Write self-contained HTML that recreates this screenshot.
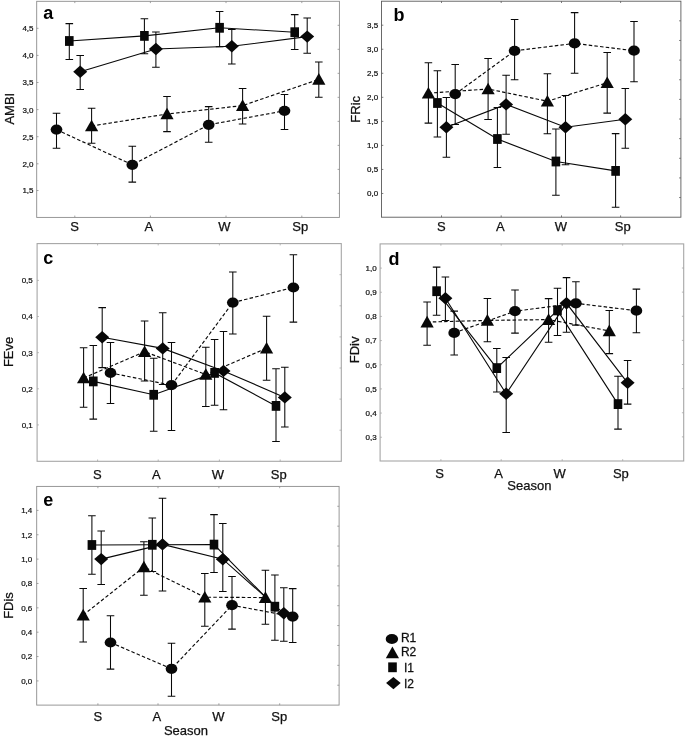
<!DOCTYPE html>
<html><head><meta charset="utf-8"><title>Figure</title>
<style>
html,body{margin:0;padding:0;background:#fff;}
body{width:685px;height:736px;overflow:hidden;font-family:"Liberation Sans",sans-serif;}
svg{display:block;}
</style></head><body>
<svg width="685" height="736" viewBox="0 0 685 736" style="will-change:transform;transform:translateZ(0)">
<rect width="685" height="736" fill="#fff"/>
<rect x="36.7" y="1.3" width="302.70" height="216.10" fill="none" stroke="#8c8c8c" stroke-width="0.9"/>
<path d="M74.8 1.3v1.8M74.8 217.4v-1.8M150.4 1.3v1.8M150.4 217.4v-1.8M226.0 1.3v1.8M226.0 217.4v-1.8M301.8 1.3v1.8M301.8 217.4v-1.8M36.7 28.30h1.8M36.7 55.40h1.8M36.7 82.50h1.8M36.7 109.60h1.8M36.7 136.70h1.8M36.7 163.80h1.8M36.7 190.50h1.8M339.4 25.31h-1.8M339.4 49.32h-1.8M339.4 73.33h-1.8M339.4 97.34h-1.8M339.4 121.36h-1.8M339.4 145.37h-1.8M339.4 169.38h-1.8M339.4 193.39h-1.8" stroke="#8c8c8c" stroke-width="0.8" fill="none"/>
<text x="33.50" y="31.20" text-anchor="end" font-size="8" font-family="Liberation Sans, sans-serif" fill="#111" stroke="#111" stroke-width="0.22">4,5</text>
<text x="33.50" y="58.30" text-anchor="end" font-size="8" font-family="Liberation Sans, sans-serif" fill="#111" stroke="#111" stroke-width="0.22">4,0</text>
<text x="33.50" y="85.40" text-anchor="end" font-size="8" font-family="Liberation Sans, sans-serif" fill="#111" stroke="#111" stroke-width="0.22">3,5</text>
<text x="33.50" y="112.50" text-anchor="end" font-size="8" font-family="Liberation Sans, sans-serif" fill="#111" stroke="#111" stroke-width="0.22">3,0</text>
<text x="33.50" y="139.60" text-anchor="end" font-size="8" font-family="Liberation Sans, sans-serif" fill="#111" stroke="#111" stroke-width="0.22">2,5</text>
<text x="33.50" y="166.70" text-anchor="end" font-size="8" font-family="Liberation Sans, sans-serif" fill="#111" stroke="#111" stroke-width="0.22">2,0</text>
<text x="33.50" y="193.40" text-anchor="end" font-size="8" font-family="Liberation Sans, sans-serif" fill="#111" stroke="#111" stroke-width="0.22">1,5</text>
<text x="74.60" y="230.70" text-anchor="middle" font-size="13" font-family="Liberation Sans, sans-serif" fill="#111" stroke="#111" stroke-width="0.25">S</text>
<text x="148.80" y="230.70" text-anchor="middle" font-size="13" font-family="Liberation Sans, sans-serif" fill="#111" stroke="#111" stroke-width="0.25">A</text>
<text x="224.50" y="230.70" text-anchor="middle" font-size="13" font-family="Liberation Sans, sans-serif" fill="#111" stroke="#111" stroke-width="0.25">W</text>
<text x="300.20" y="230.70" text-anchor="middle" font-size="13" font-family="Liberation Sans, sans-serif" fill="#111" stroke="#111" stroke-width="0.25">Sp</text>
<text transform="translate(13.6,108.7) rotate(-90)" text-anchor="middle" font-size="13" font-family="Liberation Sans, sans-serif" fill="#111" stroke="#111" stroke-width="0.25">AMBI</text>
<text x="43.2" y="18.8" font-size="18" font-weight="bold" font-family="Liberation Sans, sans-serif" fill="#000">a</text>
<path d="M56.50 129.60 L132.30 164.80 L208.70 124.80 L284.50 110.80" stroke="#080808" stroke-width="1.15" fill="none" stroke-dasharray="3.5 2.2"/>
<path d="M91.60 126.00 L167.00 114.00 L242.60 105.60 L318.80 79.40" stroke="#080808" stroke-width="1.15" fill="none" stroke-dasharray="3.5 2.2"/>
<path d="M69.30 41.00 L144.40 35.90 L219.60 27.80 L294.70 32.20" stroke="#080808" stroke-width="1.1" fill="none"/>
<path d="M80.20 71.80 L155.90 49.00 L231.80 46.30 L307.20 36.60" stroke="#080808" stroke-width="1.1" fill="none"/>
<path d="M56.50 113.30V148.20M52.70 113.30H60.30M52.70 148.20H60.30" stroke="#080808" stroke-width="1.05" fill="none"/>
<path d="M132.30 146.20V182.10M128.50 146.20H136.10M128.50 182.10H136.10" stroke="#080808" stroke-width="1.05" fill="none"/>
<path d="M208.70 106.60V142.20M204.90 106.60H212.50M204.90 142.20H212.50" stroke="#080808" stroke-width="1.05" fill="none"/>
<path d="M284.50 94.40V129.50M280.70 94.40H288.30M280.70 129.50H288.30" stroke="#080808" stroke-width="1.05" fill="none"/>
<path d="M91.60 108.30V143.20M87.80 108.30H95.40M87.80 143.20H95.40" stroke="#080808" stroke-width="1.05" fill="none"/>
<path d="M167.00 96.50V131.60M163.20 96.50H170.80M163.20 131.60H170.80" stroke="#080808" stroke-width="1.05" fill="none"/>
<path d="M242.60 88.40V124.00M238.80 88.40H246.40M238.80 124.00H246.40" stroke="#080808" stroke-width="1.05" fill="none"/>
<path d="M318.80 61.90V97.20M315.00 61.90H322.60M315.00 97.20H322.60" stroke="#080808" stroke-width="1.05" fill="none"/>
<path d="M69.30 23.60V59.40M65.50 23.60H73.10M65.50 59.40H73.10" stroke="#080808" stroke-width="1.05" fill="none"/>
<path d="M144.40 18.80V53.70M140.60 18.80H148.20M140.60 53.70H148.20" stroke="#080808" stroke-width="1.05" fill="none"/>
<path d="M219.60 11.40V46.80M215.80 11.40H223.40M215.80 46.80H223.40" stroke="#080808" stroke-width="1.05" fill="none"/>
<path d="M294.70 14.60V49.40M290.90 14.60H298.50M290.90 49.40H298.50" stroke="#080808" stroke-width="1.05" fill="none"/>
<path d="M80.20 55.50V89.50M76.40 55.50H84.00M76.40 89.50H84.00" stroke="#080808" stroke-width="1.05" fill="none"/>
<path d="M155.90 31.90V67.30M152.10 31.90H159.70M152.10 67.30H159.70" stroke="#080808" stroke-width="1.05" fill="none"/>
<path d="M231.80 29.40V63.90M228.00 29.40H235.60M228.00 63.90H235.60" stroke="#080808" stroke-width="1.05" fill="none"/>
<path d="M307.20 17.90V53.30M303.40 17.90H311.00M303.40 53.30H311.00" stroke="#080808" stroke-width="1.05" fill="none"/>
<ellipse cx="56.50" cy="129.60" rx="5.85" ry="5.1" fill="#080808"/>
<ellipse cx="132.30" cy="164.80" rx="5.85" ry="5.1" fill="#080808"/>
<ellipse cx="208.70" cy="124.80" rx="5.85" ry="5.1" fill="#080808"/>
<ellipse cx="284.50" cy="110.80" rx="5.85" ry="5.1" fill="#080808"/>
<path d="M91.60 119.70 L98.20 131.30 L85.00 131.30Z" fill="#080808"/>
<path d="M167.00 107.70 L173.60 119.30 L160.40 119.30Z" fill="#080808"/>
<path d="M242.60 99.30 L249.20 110.90 L236.00 110.90Z" fill="#080808"/>
<path d="M318.80 73.10 L325.40 84.70 L312.20 84.70Z" fill="#080808"/>
<rect x="65.00" y="36.10" width="8.6" height="9.8" fill="#080808"/>
<rect x="140.10" y="31.00" width="8.6" height="9.8" fill="#080808"/>
<rect x="215.30" y="22.90" width="8.6" height="9.8" fill="#080808"/>
<rect x="290.40" y="27.30" width="8.6" height="9.8" fill="#080808"/>
<path d="M80.20 65.60 L87.20 71.80 L80.20 78.00 L73.20 71.80Z" fill="#080808"/>
<path d="M155.90 42.80 L162.90 49.00 L155.90 55.20 L148.90 49.00Z" fill="#080808"/>
<path d="M231.80 40.10 L238.80 46.30 L231.80 52.50 L224.80 46.30Z" fill="#080808"/>
<path d="M307.20 30.40 L314.20 36.60 L307.20 42.80 L300.20 36.60Z" fill="#080808"/>
<rect x="381.5" y="1.2" width="299.40" height="216.00" fill="none" stroke="#5a5a5a" stroke-width="0.9"/>
<path d="M441.5 1.2v1.8M441.5 217.2v-1.8M501.2 1.2v1.8M501.2 217.2v-1.8M561.5 1.2v1.8M561.5 217.2v-1.8M620.6 1.2v1.8M620.6 217.2v-1.8M381.5 25.20h1.8M381.5 49.24h1.8M381.5 73.28h1.8M381.5 97.32h1.8M381.5 121.36h1.8M381.5 145.40h1.8M381.5 169.44h1.8M381.5 193.48h1.8M680.9 20.84h-1.8M680.9 40.47h-1.8M680.9 60.11h-1.8M680.9 79.75h-1.8M680.9 99.38h-1.8M680.9 119.02h-1.8M680.9 138.65h-1.8M680.9 158.29h-1.8M680.9 177.93h-1.8M680.9 197.56h-1.8" stroke="#5a5a5a" stroke-width="0.8" fill="none"/>
<text x="378.20" y="28.10" text-anchor="end" font-size="8" font-family="Liberation Sans, sans-serif" fill="#111" stroke="#111" stroke-width="0.22">3,5</text>
<text x="378.20" y="52.14" text-anchor="end" font-size="8" font-family="Liberation Sans, sans-serif" fill="#111" stroke="#111" stroke-width="0.22">3,0</text>
<text x="378.20" y="76.18" text-anchor="end" font-size="8" font-family="Liberation Sans, sans-serif" fill="#111" stroke="#111" stroke-width="0.22">2,5</text>
<text x="378.20" y="100.22" text-anchor="end" font-size="8" font-family="Liberation Sans, sans-serif" fill="#111" stroke="#111" stroke-width="0.22">2,0</text>
<text x="378.20" y="124.26" text-anchor="end" font-size="8" font-family="Liberation Sans, sans-serif" fill="#111" stroke="#111" stroke-width="0.22">1,5</text>
<text x="378.20" y="148.30" text-anchor="end" font-size="8" font-family="Liberation Sans, sans-serif" fill="#111" stroke="#111" stroke-width="0.22">1,0</text>
<text x="378.20" y="172.34" text-anchor="end" font-size="8" font-family="Liberation Sans, sans-serif" fill="#111" stroke="#111" stroke-width="0.22">0,5</text>
<text x="378.20" y="196.38" text-anchor="end" font-size="8" font-family="Liberation Sans, sans-serif" fill="#111" stroke="#111" stroke-width="0.22">0,0</text>
<text x="441.40" y="230.90" text-anchor="middle" font-size="13" font-family="Liberation Sans, sans-serif" fill="#111" stroke="#111" stroke-width="0.25">S</text>
<text x="500.40" y="230.90" text-anchor="middle" font-size="13" font-family="Liberation Sans, sans-serif" fill="#111" stroke="#111" stroke-width="0.25">A</text>
<text x="561.00" y="230.90" text-anchor="middle" font-size="13" font-family="Liberation Sans, sans-serif" fill="#111" stroke="#111" stroke-width="0.25">W</text>
<text x="622.70" y="230.90" text-anchor="middle" font-size="13" font-family="Liberation Sans, sans-serif" fill="#111" stroke="#111" stroke-width="0.25">Sp</text>
<text transform="translate(360.0,109.3) rotate(-90)" text-anchor="middle" font-size="13" font-family="Liberation Sans, sans-serif" fill="#111" stroke="#111" stroke-width="0.25">FRic</text>
<text x="393.5" y="20.8" font-size="18" font-weight="bold" font-family="Liberation Sans, sans-serif" fill="#000">b</text>
<path d="M455.20 94.10 L514.60 50.80 L574.60 43.40 L634.00 50.70" stroke="#080808" stroke-width="1.15" fill="none" stroke-dasharray="3.5 2.2"/>
<path d="M428.40 93.20 L488.10 89.00 L547.40 101.20 L607.20 82.80" stroke="#080808" stroke-width="1.15" fill="none" stroke-dasharray="3.5 2.2"/>
<path d="M437.40 103.00 L497.40 139.00 L555.90 161.50 L615.60 170.90" stroke="#080808" stroke-width="1.1" fill="none"/>
<path d="M446.40 127.20 L506.10 104.40 L565.50 127.20 L625.30 119.30" stroke="#080808" stroke-width="1.1" fill="none"/>
<path d="M455.20 64.50V124.40M451.40 64.50H459.00M451.40 124.40H459.00" stroke="#080808" stroke-width="1.05" fill="none"/>
<path d="M514.60 19.50V79.70M510.80 19.50H518.40M510.80 79.70H518.40" stroke="#080808" stroke-width="1.05" fill="none"/>
<path d="M574.60 12.60V73.30M570.80 12.60H578.40M570.80 73.30H578.40" stroke="#080808" stroke-width="1.05" fill="none"/>
<path d="M634.00 21.50V81.70M630.20 21.50H637.80M630.20 81.70H637.80" stroke="#080808" stroke-width="1.05" fill="none"/>
<path d="M428.40 62.80V123.10M424.60 62.80H432.20M424.60 123.10H432.20" stroke="#080808" stroke-width="1.05" fill="none"/>
<path d="M488.10 58.50V119.40M484.30 58.50H491.90M484.30 119.40H491.90" stroke="#080808" stroke-width="1.05" fill="none"/>
<path d="M547.40 73.80V133.80M543.60 73.80H551.20M543.60 133.80H551.20" stroke="#080808" stroke-width="1.05" fill="none"/>
<path d="M607.20 52.50V113.10M603.40 52.50H611.00M603.40 113.10H611.00" stroke="#080808" stroke-width="1.05" fill="none"/>
<path d="M437.40 70.80V137.00M433.60 70.80H441.20M433.60 137.00H441.20" stroke="#080808" stroke-width="1.05" fill="none"/>
<path d="M497.40 107.40V167.50M493.60 107.40H501.20M493.60 167.50H501.20" stroke="#080808" stroke-width="1.05" fill="none"/>
<path d="M555.90 129.00V195.30M552.10 129.00H559.70M552.10 195.30H559.70" stroke="#080808" stroke-width="1.05" fill="none"/>
<path d="M615.60 133.60V207.20M611.80 133.60H619.40M611.80 207.20H619.40" stroke="#080808" stroke-width="1.05" fill="none"/>
<path d="M446.40 97.50V157.30M442.60 97.50H450.20M442.60 157.30H450.20" stroke="#080808" stroke-width="1.05" fill="none"/>
<path d="M506.10 75.30V134.20M502.30 75.30H509.90M502.30 134.20H509.90" stroke="#080808" stroke-width="1.05" fill="none"/>
<path d="M565.50 95.40V164.80M561.70 95.40H569.30M561.70 164.80H569.30" stroke="#080808" stroke-width="1.05" fill="none"/>
<path d="M625.30 88.50V148.30M621.50 88.50H629.10M621.50 148.30H629.10" stroke="#080808" stroke-width="1.05" fill="none"/>
<ellipse cx="455.20" cy="94.10" rx="5.85" ry="5.1" fill="#080808"/>
<ellipse cx="514.60" cy="50.80" rx="5.85" ry="5.1" fill="#080808"/>
<ellipse cx="574.60" cy="43.40" rx="5.85" ry="5.1" fill="#080808"/>
<ellipse cx="634.00" cy="50.70" rx="5.85" ry="5.1" fill="#080808"/>
<path d="M428.40 86.90 L435.00 98.50 L421.80 98.50Z" fill="#080808"/>
<path d="M488.10 82.70 L494.70 94.30 L481.50 94.30Z" fill="#080808"/>
<path d="M547.40 94.90 L554.00 106.50 L540.80 106.50Z" fill="#080808"/>
<path d="M607.20 76.50 L613.80 88.10 L600.60 88.10Z" fill="#080808"/>
<rect x="433.10" y="98.10" width="8.6" height="9.8" fill="#080808"/>
<rect x="493.10" y="134.10" width="8.6" height="9.8" fill="#080808"/>
<rect x="551.60" y="156.60" width="8.6" height="9.8" fill="#080808"/>
<rect x="611.30" y="166.00" width="8.6" height="9.8" fill="#080808"/>
<path d="M446.40 121.00 L453.40 127.20 L446.40 133.40 L439.40 127.20Z" fill="#080808"/>
<path d="M506.10 98.20 L513.10 104.40 L506.10 110.60 L499.10 104.40Z" fill="#080808"/>
<path d="M565.50 121.00 L572.50 127.20 L565.50 133.40 L558.50 127.20Z" fill="#080808"/>
<path d="M625.30 113.10 L632.30 119.30 L625.30 125.50 L618.30 119.30Z" fill="#080808"/>
<rect x="37.1" y="243.6" width="304.20" height="217.70" fill="none" stroke="#a6a6a6" stroke-width="1.1"/>
<path d="M97.6 243.6v1.8M97.6 461.3v-1.8M158.2 243.6v1.8M158.2 461.3v-1.8M219.4 243.6v1.8M219.4 461.3v-1.8M280.2 243.6v1.8M280.2 461.3v-1.8M37.1 280.40h1.8M37.1 316.53h1.8M37.1 352.66h1.8M37.1 388.79h1.8M37.1 424.92h1.8M341.3 274.70h-1.8M341.3 305.80h-1.8M341.3 336.90h-1.8M341.3 368.00h-1.8M341.3 399.10h-1.8M341.3 430.20h-1.8" stroke="#a6a6a6" stroke-width="0.8" fill="none"/>
<text x="32.80" y="283.30" text-anchor="end" font-size="8" font-family="Liberation Sans, sans-serif" fill="#111" stroke="#111" stroke-width="0.22">0,5</text>
<text x="32.80" y="319.43" text-anchor="end" font-size="8" font-family="Liberation Sans, sans-serif" fill="#111" stroke="#111" stroke-width="0.22">0,4</text>
<text x="32.80" y="355.56" text-anchor="end" font-size="8" font-family="Liberation Sans, sans-serif" fill="#111" stroke="#111" stroke-width="0.22">0,3</text>
<text x="32.80" y="391.69" text-anchor="end" font-size="8" font-family="Liberation Sans, sans-serif" fill="#111" stroke="#111" stroke-width="0.22">0,2</text>
<text x="32.80" y="427.82" text-anchor="end" font-size="8" font-family="Liberation Sans, sans-serif" fill="#111" stroke="#111" stroke-width="0.22">0,1</text>
<text x="97.40" y="478.60" text-anchor="middle" font-size="13" font-family="Liberation Sans, sans-serif" fill="#111" stroke="#111" stroke-width="0.25">S</text>
<text x="156.40" y="478.60" text-anchor="middle" font-size="13" font-family="Liberation Sans, sans-serif" fill="#111" stroke="#111" stroke-width="0.25">A</text>
<text x="217.80" y="478.60" text-anchor="middle" font-size="13" font-family="Liberation Sans, sans-serif" fill="#111" stroke="#111" stroke-width="0.25">W</text>
<text x="278.80" y="478.60" text-anchor="middle" font-size="13" font-family="Liberation Sans, sans-serif" fill="#111" stroke="#111" stroke-width="0.25">Sp</text>
<text transform="translate(13.2,351.9) rotate(-90)" text-anchor="middle" font-size="13" font-family="Liberation Sans, sans-serif" fill="#111" stroke="#111" stroke-width="0.25">FEve</text>
<text x="43.3" y="263.5" font-size="18" font-weight="bold" font-family="Liberation Sans, sans-serif" fill="#000">c</text>
<path d="M110.50 372.90 L171.50 385.20 L232.80 302.60 L293.40 287.50" stroke="#080808" stroke-width="1.15" fill="none" stroke-dasharray="3.5 2.2"/>
<path d="M83.60 378.00 L144.60 351.70 L205.80 374.50 L266.60 348.20" stroke="#080808" stroke-width="1.15" fill="none" stroke-dasharray="3.5 2.2"/>
<path d="M93.30 381.40 L153.70 394.80 L214.60 372.90 L276.00 405.90" stroke="#080808" stroke-width="1.1" fill="none"/>
<path d="M102.20 337.20 L162.70 348.40 L223.50 370.90 L284.80 397.40" stroke="#080808" stroke-width="1.1" fill="none"/>
<path d="M110.50 342.50V403.50M106.70 342.50H114.30M106.70 403.50H114.30" stroke="#080808" stroke-width="1.05" fill="none"/>
<path d="M171.50 342.40V430.40M167.70 342.40H175.30M167.70 430.40H175.30" stroke="#080808" stroke-width="1.05" fill="none"/>
<path d="M232.80 271.90V334.00M229.00 271.90H236.60M229.00 334.00H236.60" stroke="#080808" stroke-width="1.05" fill="none"/>
<path d="M293.40 254.80V322.10M289.60 254.80H297.20M289.60 322.10H297.20" stroke="#080808" stroke-width="1.05" fill="none"/>
<path d="M83.60 347.70V407.30M79.80 347.70H87.40M79.80 407.30H87.40" stroke="#080808" stroke-width="1.05" fill="none"/>
<path d="M144.60 320.90V380.90M140.80 320.90H148.40M140.80 380.90H148.40" stroke="#080808" stroke-width="1.05" fill="none"/>
<path d="M205.80 347.30V406.50M202.00 347.30H209.60M202.00 406.50H209.60" stroke="#080808" stroke-width="1.05" fill="none"/>
<path d="M266.60 316.30V380.20M262.80 316.30H270.40M262.80 380.20H270.40" stroke="#080808" stroke-width="1.05" fill="none"/>
<path d="M93.30 345.50V419.10M89.50 345.50H97.10M89.50 419.10H97.10" stroke="#080808" stroke-width="1.05" fill="none"/>
<path d="M153.70 358.30V431.20M149.90 358.30H157.50M149.90 431.20H157.50" stroke="#080808" stroke-width="1.05" fill="none"/>
<path d="M214.60 339.50V405.20M210.80 339.50H218.40M210.80 405.20H218.40" stroke="#080808" stroke-width="1.05" fill="none"/>
<path d="M276.00 368.80V441.50M272.20 368.80H279.80M272.20 441.50H279.80" stroke="#080808" stroke-width="1.05" fill="none"/>
<path d="M102.20 307.60V367.60M98.40 307.60H106.00M98.40 367.60H106.00" stroke="#080808" stroke-width="1.05" fill="none"/>
<path d="M162.70 312.80V384.50M158.90 312.80H166.50M158.90 384.50H166.50" stroke="#080808" stroke-width="1.05" fill="none"/>
<path d="M223.50 331.40V409.80M219.70 331.40H227.30M219.70 409.80H227.30" stroke="#080808" stroke-width="1.05" fill="none"/>
<path d="M284.80 367.20V427.00M281.00 367.20H288.60M281.00 427.00H288.60" stroke="#080808" stroke-width="1.05" fill="none"/>
<ellipse cx="110.50" cy="372.90" rx="5.85" ry="5.1" fill="#080808"/>
<ellipse cx="171.50" cy="385.20" rx="5.85" ry="5.1" fill="#080808"/>
<ellipse cx="232.80" cy="302.60" rx="5.85" ry="5.1" fill="#080808"/>
<ellipse cx="293.40" cy="287.50" rx="5.85" ry="5.1" fill="#080808"/>
<path d="M83.60 371.70 L90.20 383.30 L77.00 383.30Z" fill="#080808"/>
<path d="M144.60 345.40 L151.20 357.00 L138.00 357.00Z" fill="#080808"/>
<path d="M205.80 368.20 L212.40 379.80 L199.20 379.80Z" fill="#080808"/>
<path d="M266.60 341.90 L273.20 353.50 L260.00 353.50Z" fill="#080808"/>
<rect x="89.00" y="376.50" width="8.6" height="9.8" fill="#080808"/>
<rect x="149.40" y="389.90" width="8.6" height="9.8" fill="#080808"/>
<rect x="210.30" y="368.00" width="8.6" height="9.8" fill="#080808"/>
<rect x="271.70" y="401.00" width="8.6" height="9.8" fill="#080808"/>
<path d="M102.20 331.00 L109.20 337.20 L102.20 343.40 L95.20 337.20Z" fill="#080808"/>
<path d="M162.70 342.20 L169.70 348.40 L162.70 354.60 L155.70 348.40Z" fill="#080808"/>
<path d="M223.50 364.70 L230.50 370.90 L223.50 377.10 L216.50 370.90Z" fill="#080808"/>
<path d="M284.80 391.20 L291.80 397.40 L284.80 403.60 L277.80 397.40Z" fill="#080808"/>
<rect x="380.1" y="243.9" width="303.60" height="217.10" fill="none" stroke="#a6a6a6" stroke-width="1.1"/>
<path d="M440.9 243.9v1.8M440.9 461.0v-1.8M501.2 243.9v1.8M501.2 461.0v-1.8M562.2 243.9v1.8M562.2 461.0v-1.8M622.7 243.9v1.8M622.7 461.0v-1.8M380.1 268.10h1.8M380.1 292.26h1.8M380.1 316.42h1.8M380.1 340.58h1.8M380.1 364.74h1.8M380.1 388.90h1.8M380.1 413.06h1.8M380.1 437.22h1.8M683.7 268.02h-1.8M683.7 292.14h-1.8M683.7 316.27h-1.8M683.7 340.39h-1.8M683.7 364.51h-1.8M683.7 388.63h-1.8M683.7 412.76h-1.8M683.7 436.88h-1.8" stroke="#a6a6a6" stroke-width="0.8" fill="none"/>
<text x="376.70" y="271.00" text-anchor="end" font-size="8" font-family="Liberation Sans, sans-serif" fill="#111" stroke="#111" stroke-width="0.22">1,0</text>
<text x="376.70" y="295.16" text-anchor="end" font-size="8" font-family="Liberation Sans, sans-serif" fill="#111" stroke="#111" stroke-width="0.22">0,9</text>
<text x="376.70" y="319.32" text-anchor="end" font-size="8" font-family="Liberation Sans, sans-serif" fill="#111" stroke="#111" stroke-width="0.22">0,8</text>
<text x="376.70" y="343.48" text-anchor="end" font-size="8" font-family="Liberation Sans, sans-serif" fill="#111" stroke="#111" stroke-width="0.22">0,7</text>
<text x="376.70" y="367.64" text-anchor="end" font-size="8" font-family="Liberation Sans, sans-serif" fill="#111" stroke="#111" stroke-width="0.22">0,6</text>
<text x="376.70" y="391.80" text-anchor="end" font-size="8" font-family="Liberation Sans, sans-serif" fill="#111" stroke="#111" stroke-width="0.22">0,5</text>
<text x="376.70" y="415.96" text-anchor="end" font-size="8" font-family="Liberation Sans, sans-serif" fill="#111" stroke="#111" stroke-width="0.22">0,4</text>
<text x="376.70" y="440.12" text-anchor="end" font-size="8" font-family="Liberation Sans, sans-serif" fill="#111" stroke="#111" stroke-width="0.22">0,3</text>
<text x="439.70" y="478.40" text-anchor="middle" font-size="13" font-family="Liberation Sans, sans-serif" fill="#111" stroke="#111" stroke-width="0.25">S</text>
<text x="498.70" y="478.40" text-anchor="middle" font-size="13" font-family="Liberation Sans, sans-serif" fill="#111" stroke="#111" stroke-width="0.25">A</text>
<text x="559.70" y="478.40" text-anchor="middle" font-size="13" font-family="Liberation Sans, sans-serif" fill="#111" stroke="#111" stroke-width="0.25">W</text>
<text x="620.90" y="478.40" text-anchor="middle" font-size="13" font-family="Liberation Sans, sans-serif" fill="#111" stroke="#111" stroke-width="0.25">Sp</text>
<text transform="translate(359.3,349.9) rotate(-90)" text-anchor="middle" font-size="13" font-family="Liberation Sans, sans-serif" fill="#111" stroke="#111" stroke-width="0.25">FDiv</text>
<text x="388.5" y="264.6" font-size="18" font-weight="bold" font-family="Liberation Sans, sans-serif" fill="#000">d</text>
<text x="507.3" y="490.20" font-size="13" font-family="Liberation Sans, sans-serif" fill="#111" stroke="#111" stroke-width="0.25">Season</text>
<path d="M454.20 332.90 L515.00 311.20 L575.90 303.30 L636.40 310.70" stroke="#080808" stroke-width="1.15" fill="none" stroke-dasharray="3.5 2.2"/>
<path d="M427.10 322.10 L487.40 320.40 L548.60 319.60 L609.30 330.90" stroke="#080808" stroke-width="1.15" fill="none" stroke-dasharray="3.5 2.2"/>
<path d="M436.60 291.20 L496.80 368.10 L557.50 310.40 L618.00 404.10" stroke="#080808" stroke-width="1.1" fill="none"/>
<path d="M445.40 298.30 L506.20 393.70 L566.50 303.30 L627.60 382.80" stroke="#080808" stroke-width="1.1" fill="none"/>
<path d="M454.20 311.10V355.00M450.40 311.10H458.00M450.40 355.00H458.00" stroke="#080808" stroke-width="1.05" fill="none"/>
<path d="M515.00 290.00V333.10M511.20 290.00H518.80M511.20 333.10H518.80" stroke="#080808" stroke-width="1.05" fill="none"/>
<path d="M575.90 281.80V325.10M572.10 281.80H579.70M572.10 325.10H579.70" stroke="#080808" stroke-width="1.05" fill="none"/>
<path d="M636.40 289.10V332.70M632.60 289.10H640.20M632.60 332.70H640.20" stroke="#080808" stroke-width="1.05" fill="none"/>
<path d="M427.10 302.00V345.20M423.30 302.00H430.90M423.30 345.20H430.90" stroke="#080808" stroke-width="1.05" fill="none"/>
<path d="M487.40 298.50V341.70M483.60 298.50H491.20M483.60 341.70H491.20" stroke="#080808" stroke-width="1.05" fill="none"/>
<path d="M548.60 298.60V342.20M544.80 298.60H552.40M544.80 342.20H552.40" stroke="#080808" stroke-width="1.05" fill="none"/>
<path d="M609.30 310.40V353.60M605.50 310.40H613.10M605.50 353.60H613.10" stroke="#080808" stroke-width="1.05" fill="none"/>
<path d="M436.60 267.10V315.30M432.80 267.10H440.40M432.80 315.30H440.40" stroke="#080808" stroke-width="1.05" fill="none"/>
<path d="M496.80 348.40V392.00M493.00 348.40H500.60M493.00 392.00H500.60" stroke="#080808" stroke-width="1.05" fill="none"/>
<path d="M557.50 288.30V335.40M553.70 288.30H561.30M553.70 335.40H561.30" stroke="#080808" stroke-width="1.05" fill="none"/>
<path d="M618.00 376.30V429.10M614.20 376.30H621.80M614.20 429.10H621.80" stroke="#080808" stroke-width="1.05" fill="none"/>
<path d="M445.40 276.90V320.40M441.60 276.90H449.20M441.60 320.40H449.20" stroke="#080808" stroke-width="1.05" fill="none"/>
<path d="M506.20 357.50V432.50M502.40 357.50H510.00M502.40 432.50H510.00" stroke="#080808" stroke-width="1.05" fill="none"/>
<path d="M566.50 277.60V332.20M562.70 277.60H570.30M562.70 332.20H570.30" stroke="#080808" stroke-width="1.05" fill="none"/>
<path d="M627.60 360.50V404.10M623.80 360.50H631.40M623.80 404.10H631.40" stroke="#080808" stroke-width="1.05" fill="none"/>
<ellipse cx="454.20" cy="332.90" rx="5.85" ry="5.1" fill="#080808"/>
<ellipse cx="515.00" cy="311.20" rx="5.85" ry="5.1" fill="#080808"/>
<ellipse cx="575.90" cy="303.30" rx="5.85" ry="5.1" fill="#080808"/>
<ellipse cx="636.40" cy="310.70" rx="5.85" ry="5.1" fill="#080808"/>
<path d="M427.10 315.80 L433.70 327.40 L420.50 327.40Z" fill="#080808"/>
<path d="M487.40 314.10 L494.00 325.70 L480.80 325.70Z" fill="#080808"/>
<path d="M548.60 313.30 L555.20 324.90 L542.00 324.90Z" fill="#080808"/>
<path d="M609.30 324.60 L615.90 336.20 L602.70 336.20Z" fill="#080808"/>
<rect x="432.30" y="286.30" width="8.6" height="9.8" fill="#080808"/>
<rect x="492.50" y="363.20" width="8.6" height="9.8" fill="#080808"/>
<rect x="553.20" y="305.50" width="8.6" height="9.8" fill="#080808"/>
<rect x="613.70" y="399.20" width="8.6" height="9.8" fill="#080808"/>
<path d="M445.40 292.10 L452.40 298.30 L445.40 304.50 L438.40 298.30Z" fill="#080808"/>
<path d="M506.20 387.50 L513.20 393.70 L506.20 399.90 L499.20 393.70Z" fill="#080808"/>
<path d="M566.50 297.10 L573.50 303.30 L566.50 309.50 L559.50 303.30Z" fill="#080808"/>
<path d="M627.60 376.60 L634.60 382.80 L627.60 389.00 L620.60 382.80Z" fill="#080808"/>
<rect x="36.7" y="486.4" width="302.40" height="218.70" fill="none" stroke="#8c8c8c" stroke-width="0.9"/>
<path d="M97.9 486.4v1.8M97.9 705.1v-1.8M158.0 486.4v1.8M158.0 705.1v-1.8M218.9 486.4v1.8M218.9 705.1v-1.8M279.7 486.4v1.8M279.7 705.1v-1.8M36.7 510.40h1.8M36.7 534.76h1.8M36.7 559.12h1.8M36.7 583.48h1.8M36.7 607.84h1.8M36.7 632.20h1.8M36.7 656.56h1.8M36.7 680.92h1.8M339.1 506.28h-1.8M339.1 526.16h-1.8M339.1 546.05h-1.8M339.1 565.93h-1.8M339.1 585.81h-1.8M339.1 605.69h-1.8M339.1 625.57h-1.8M339.1 645.45h-1.8M339.1 665.34h-1.8M339.1 685.22h-1.8" stroke="#8c8c8c" stroke-width="0.8" fill="none"/>
<text x="32.30" y="513.30" text-anchor="end" font-size="8" font-family="Liberation Sans, sans-serif" fill="#111" stroke="#111" stroke-width="0.22">1,4</text>
<text x="32.30" y="537.66" text-anchor="end" font-size="8" font-family="Liberation Sans, sans-serif" fill="#111" stroke="#111" stroke-width="0.22">1,2</text>
<text x="32.30" y="562.02" text-anchor="end" font-size="8" font-family="Liberation Sans, sans-serif" fill="#111" stroke="#111" stroke-width="0.22">1,0</text>
<text x="32.30" y="586.38" text-anchor="end" font-size="8" font-family="Liberation Sans, sans-serif" fill="#111" stroke="#111" stroke-width="0.22">0,8</text>
<text x="32.30" y="610.74" text-anchor="end" font-size="8" font-family="Liberation Sans, sans-serif" fill="#111" stroke="#111" stroke-width="0.22">0,6</text>
<text x="32.30" y="635.10" text-anchor="end" font-size="8" font-family="Liberation Sans, sans-serif" fill="#111" stroke="#111" stroke-width="0.22">0,4</text>
<text x="32.30" y="659.46" text-anchor="end" font-size="8" font-family="Liberation Sans, sans-serif" fill="#111" stroke="#111" stroke-width="0.22">0,2</text>
<text x="32.30" y="683.82" text-anchor="end" font-size="8" font-family="Liberation Sans, sans-serif" fill="#111" stroke="#111" stroke-width="0.22">0,0</text>
<text x="97.90" y="721.10" text-anchor="middle" font-size="13" font-family="Liberation Sans, sans-serif" fill="#111" stroke="#111" stroke-width="0.25">S</text>
<text x="156.90" y="721.10" text-anchor="middle" font-size="13" font-family="Liberation Sans, sans-serif" fill="#111" stroke="#111" stroke-width="0.25">A</text>
<text x="218.50" y="721.10" text-anchor="middle" font-size="13" font-family="Liberation Sans, sans-serif" fill="#111" stroke="#111" stroke-width="0.25">W</text>
<text x="279.30" y="721.10" text-anchor="middle" font-size="13" font-family="Liberation Sans, sans-serif" fill="#111" stroke="#111" stroke-width="0.25">Sp</text>
<text transform="translate(12.8,605.5) rotate(-90)" text-anchor="middle" font-size="13" font-family="Liberation Sans, sans-serif" fill="#111" stroke="#111" stroke-width="0.25">FDis</text>
<text x="43.2" y="506.3" font-size="18" font-weight="bold" font-family="Liberation Sans, sans-serif" fill="#000">e</text>
<text x="163.9" y="734.70" font-size="13" font-family="Liberation Sans, sans-serif" fill="#111" stroke="#111" stroke-width="0.25">Season</text>
<path d="M110.50 642.50 L171.50 668.80 L232.00 605.20 L292.70 616.60" stroke="#080808" stroke-width="1.15" fill="none" stroke-dasharray="3.5 2.2"/>
<path d="M83.20 615.10 L143.90 567.00 L204.80 597.20 L265.40 597.60" stroke="#080808" stroke-width="1.15" fill="none" stroke-dasharray="3.5 2.2"/>
<path d="M91.90 545.00 L152.30 544.80 L214.00 544.60 L274.90 606.70" stroke="#080808" stroke-width="1.1" fill="none"/>
<path d="M101.20 559.10 L162.50 544.40 L222.80 559.20 L283.80 613.30" stroke="#080808" stroke-width="1.1" fill="none"/>
<path d="M110.50 615.70V669.10M106.70 615.70H114.30M106.70 669.10H114.30" stroke="#080808" stroke-width="1.05" fill="none"/>
<path d="M171.50 643.20V696.20M167.70 643.20H175.30M167.70 696.20H175.30" stroke="#080808" stroke-width="1.05" fill="none"/>
<path d="M232.00 576.50V629.10M228.20 576.50H235.80M228.20 629.10H235.80" stroke="#080808" stroke-width="1.05" fill="none"/>
<path d="M292.70 588.60V642.40M288.90 588.60H296.50M288.90 642.40H296.50" stroke="#080808" stroke-width="1.05" fill="none"/>
<path d="M83.20 588.50V642.00M79.40 588.50H87.00M79.40 642.00H87.00" stroke="#080808" stroke-width="1.05" fill="none"/>
<path d="M143.90 541.80V595.30M140.10 541.80H147.70M140.10 595.30H147.70" stroke="#080808" stroke-width="1.05" fill="none"/>
<path d="M204.80 573.40V626.30M201.00 573.40H208.60M201.00 626.30H208.60" stroke="#080808" stroke-width="1.05" fill="none"/>
<path d="M265.40 570.30V624.20M261.60 570.30H269.20M261.60 624.20H269.20" stroke="#080808" stroke-width="1.05" fill="none"/>
<path d="M91.90 515.70V574.20M88.10 515.70H95.70M88.10 574.20H95.70" stroke="#080808" stroke-width="1.05" fill="none"/>
<path d="M152.30 518.00V571.50M148.50 518.00H156.10M148.50 571.50H156.10" stroke="#080808" stroke-width="1.05" fill="none"/>
<path d="M214.00 514.60V572.40M210.20 514.60H217.80M210.20 572.40H217.80" stroke="#080808" stroke-width="1.05" fill="none"/>
<path d="M274.90 574.90V640.30M271.10 574.90H278.70M271.10 640.30H278.70" stroke="#080808" stroke-width="1.05" fill="none"/>
<path d="M101.20 531.00V584.50M97.40 531.00H105.00M97.40 584.50H105.00" stroke="#080808" stroke-width="1.05" fill="none"/>
<path d="M162.50 498.30V590.90M158.70 498.30H166.30M158.70 590.90H166.30" stroke="#080808" stroke-width="1.05" fill="none"/>
<path d="M222.80 523.50V591.40M219.00 523.50H226.60M219.00 591.40H226.60" stroke="#080808" stroke-width="1.05" fill="none"/>
<path d="M283.80 587.80V641.30M280.00 587.80H287.60M280.00 641.30H287.60" stroke="#080808" stroke-width="1.05" fill="none"/>
<ellipse cx="110.50" cy="642.50" rx="5.85" ry="5.1" fill="#080808"/>
<ellipse cx="171.50" cy="668.80" rx="5.85" ry="5.1" fill="#080808"/>
<ellipse cx="232.00" cy="605.20" rx="5.85" ry="5.1" fill="#080808"/>
<ellipse cx="292.70" cy="616.60" rx="5.85" ry="5.1" fill="#080808"/>
<path d="M83.20 608.80 L89.80 620.40 L76.60 620.40Z" fill="#080808"/>
<path d="M143.90 560.70 L150.50 572.30 L137.30 572.30Z" fill="#080808"/>
<path d="M204.80 590.90 L211.40 602.50 L198.20 602.50Z" fill="#080808"/>
<path d="M265.40 591.30 L272.00 602.90 L258.80 602.90Z" fill="#080808"/>
<rect x="87.60" y="540.10" width="8.6" height="9.8" fill="#080808"/>
<rect x="148.00" y="539.90" width="8.6" height="9.8" fill="#080808"/>
<rect x="209.70" y="539.70" width="8.6" height="9.8" fill="#080808"/>
<rect x="270.60" y="601.80" width="8.6" height="9.8" fill="#080808"/>
<path d="M101.20 552.90 L108.20 559.10 L101.20 565.30 L94.20 559.10Z" fill="#080808"/>
<path d="M162.50 538.20 L169.50 544.40 L162.50 550.60 L155.50 544.40Z" fill="#080808"/>
<path d="M222.80 553.00 L229.80 559.20 L222.80 565.40 L215.80 559.20Z" fill="#080808"/>
<path d="M283.80 607.10 L290.80 613.30 L283.80 619.50 L276.80 613.30Z" fill="#080808"/>
<ellipse cx="391.90" cy="639.00" rx="6.2" ry="5.0" fill="#080808"/>
<path d="M392.40 646.60 L399.00 658.20 L385.80 658.20Z" fill="#080808"/>
<rect x="388.20" y="662.40" width="8.6" height="9.8" fill="#080808"/>
<path d="M393.4 677.0 L400.7 683.1 L393.4 689.2 L386.1 683.1Z" fill="#080808"/>
<text x="400.9" y="641.9" font-size="12" font-family="Liberation Sans, sans-serif" fill="#111" stroke="#111" stroke-width="0.28">R1</text>
<text x="400.9" y="656.4" font-size="12" font-family="Liberation Sans, sans-serif" fill="#111" stroke="#111" stroke-width="0.28">R2</text>
<text x="403.9" y="671.9" font-size="12" font-family="Liberation Sans, sans-serif" fill="#111" stroke="#111" stroke-width="0.28">I1</text>
<text x="403.9" y="687.8" font-size="12" font-family="Liberation Sans, sans-serif" fill="#111" stroke="#111" stroke-width="0.28">I2</text>
</svg>
</body></html>
